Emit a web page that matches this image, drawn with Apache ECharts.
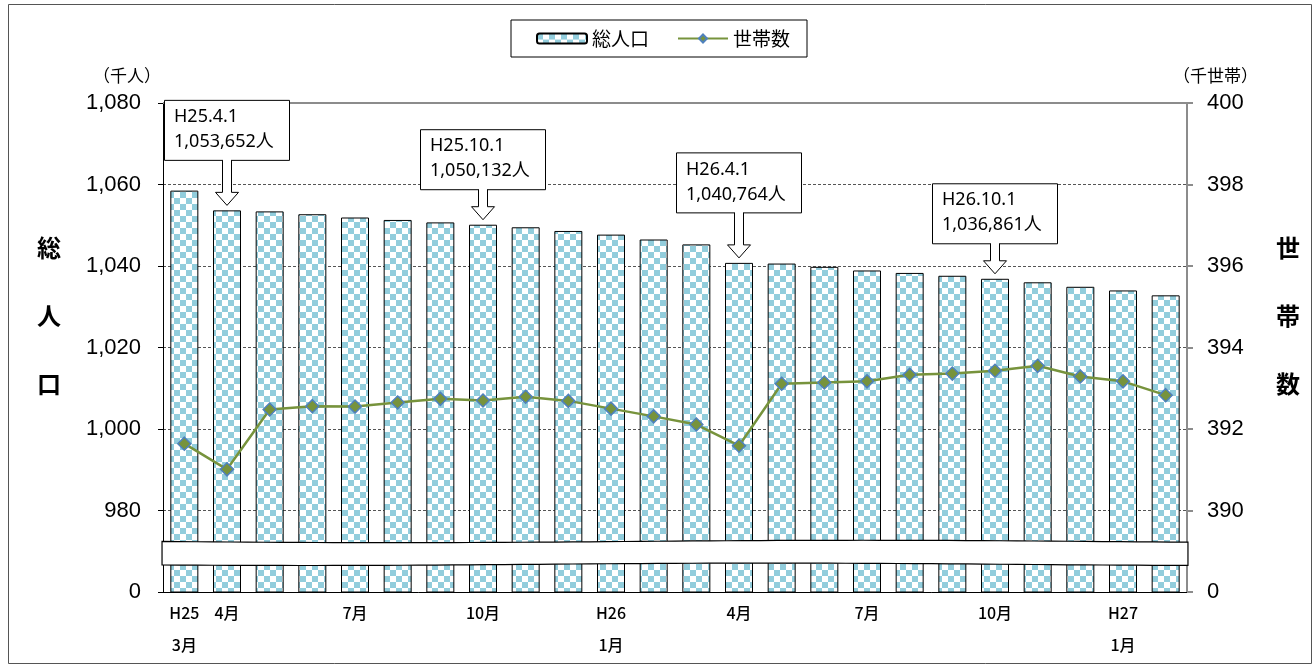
<!DOCTYPE html>
<html><head><meta charset="utf-8">
<script src="https://cdn.jsdelivr.net/npm/echarts@6/dist/echarts.min.js"></script>
<style>html,body{margin:0;padding:0;background:#fff}#c{width:1315px;height:668px}</style>
</head><body><div id="c"></div>
<script>
// ---- data ----
const categories = ['H25\n3月','4月','5月','6月','7月','8月','9月','10月','11月','12月','H26\n1月','2月','3月','4月','5月','6月','7月','8月','9月','10月','11月','12月','H27\n1月','2月'];
const population = [1058.5, 1053.652, 1053.4, 1052.7, 1051.9, 1051.3, 1050.7, 1050.132, 1049.5, 1048.6, 1047.7, 1046.5, 1045.3, 1040.764, 1040.6, 1039.8, 1038.9, 1038.3, 1037.6, 1036.861, 1036.0, 1034.9, 1034.0, 1032.8];
const households = [391.64, 391.01, 392.48, 392.56, 392.55, 392.65, 392.74, 392.70, 392.79, 392.69, 392.50, 392.31, 392.11, 391.59, 393.11, 393.14, 393.17, 393.33, 393.36, 393.43, 393.55, 393.29, 393.17, 392.83];
const leftTickValues = [960, 980, 1000, 1020, 1040, 1060, 1080];
const leftTickLabels = ['0', '980', '1,000', '1,020', '1,040', '1,060', '1,080'];
const rightTickValues = [388, 390, 392, 394, 396, 398, 400];
const rightTickLabels = ['0', '390', '392', '394', '396', '398', '400'];
const calloutIndex = [1, 7, 13, 19];
const calloutDate = ['H25.4.1', 'H25.10.1', 'H26.4.1', 'H26.10.1'];
const shownLabelIndex = [0, 1, 4, 7, 10, 13, 16, 19, 22];

(function () {
// ---- chart ----
const S = 6;
const pc = document.createElement('canvas'); pc.width = 2 * S; pc.height = 2 * S;
const g = pc.getContext('2d');
g.fillStyle = '#ffffff'; g.fillRect(0, 0, 2 * S, 2 * S);
g.fillStyle = '#92CDDC'; g.fillRect(0, 0, S, S); g.fillRect(S, S, S, S);
const checker = { image: pc, repeat: 'repeat' };

const numFont = '"Liberation Sans", Arial, sans-serif';
const jpFont = '"Noto Sans CJK JP", sans-serif';

const chart = echarts.init(document.getElementById('c'), null, { renderer: 'canvas' });
const option = {
  animation: false,
  backgroundColor: '#ffffff',
  grid: { left: 163, right: 128, top: 103, bottom: 76 },
  legend: {
    left: 511, top: 20,
    padding: [9, 17, 9, 25],
    borderColor: '#000', borderWidth: 1,
    itemWidth: 50, itemHeight: 10, itemGap: 28,
    textStyle: { fontFamily: jpFont, fontSize: 19, color: '#000' },
    data: ['総人口', '世帯数']
  },
  xAxis: {
    type: 'category', data: categories,
    axisLine: { lineStyle: { color: '#000', width: 1 } },
    axisTick: { show: false },
    axisLabel: {
      interval: 0, margin: 5, color: '#000', fontFamily: jpFont, fontSize: 16, fontWeight: 500,
      lineHeight: 32, verticalAlign: 'top',
      formatter: (v, i) => shownLabelIndex.indexOf(i) >= 0 ? v : ''
    }
  },
  yAxis: [{
    type: 'value', min: 960, max: 1080, interval: 20,
    axisLine: { show: true, lineStyle: { color: '#000', width: 1 } },
    axisTick: { show: true, length: 5, lineStyle: { color: '#000' } },
    axisLabel: { color: '#000', fontFamily: numFont, fontSize: 22, margin: 22,
      formatter: v => leftTickLabels[leftTickValues.indexOf(v)] },
    splitLine: { show: true, lineStyle: { type: [3, 2], width: 1,
      color: ['transparent', '#555', '#555', '#555', '#555', '#555', 'transparent'] } }
  }, {
    type: 'value', min: 388, max: 400, interval: 2,
    axisLine: { show: true, lineStyle: { color: '#8c8c8c', width: 2 } },
    axisTick: { show: true, length: 6, lineStyle: { color: '#8c8c8c', width: 2 } },
    axisLabel: { color: '#000', fontFamily: numFont, fontSize: 22, margin: 20,
      formatter: v => rightTickLabels[rightTickValues.indexOf(v)] },
    splitLine: { show: false }
  }],
  series: [{
    name: '総人口', type: 'bar', data: population, yAxisIndex: 0,
    barWidth: 28,
    itemStyle: { color: checker, borderColor: '#000', borderWidth: 1 }
  }, {
    name: '世帯数', type: 'line', data: households, yAxisIndex: 1,
    symbol: 'diamond', symbolSize: 13,
    lineStyle: { color: '#77933C', width: 2.5 },
    itemStyle: { color: '#77933C', borderColor: '#4F81BD', borderWidth: 1.5 },
    markLine: { silent: true, symbol: 'none', label: { show: false },
      lineStyle: { color: '#8c8c8c', width: 2, type: 'solid' },
      data: [{ yAxis: 400 }] },
    z: 3
  }]
};
chart.setOption(option);

// ---- decorations computed from the chart's scales ----
const px = (i, v) => chart.convertToPixel({ xAxisIndex: 0, yAxisIndex: 0 }, [i, v]);
const elems = [];
elems.push({ type: 'rect', z: 0, silent: true,
  shape: { x: 8.5, y: 4.5, width: 1303, height: 659 },
  style: { fill: 'none', stroke: '#555', lineWidth: 1 } });
elems.push({ type: 'text', z: 10, style: { text: '（千人）', x: 161, y: 76, align: 'right', verticalAlign: 'middle', font: '17px ' + jpFont, fill: '#000' } });
elems.push({ type: 'text', z: 10, style: { text: '（千世帯）', x: 1173, y: 76, align: 'left', verticalAlign: 'middle', font: '17px ' + jpFont, fill: '#000' } });
elems.push({ type: 'text', z: 10, style: { text: '総\n人\n口', x: 49, y: 316, align: 'center', verticalAlign: 'middle', lineHeight: 68, font: 'bold 24px ' + jpFont, fill: '#000' } });
elems.push({ type: 'text', z: 10, style: { text: '世\n帯\n数', x: 1288, y: 316, align: 'center', verticalAlign: 'middle', lineHeight: 68, font: 'bold 24px ' + jpFont, fill: '#000' } });

// axis break band (gently wavy edges)
const gl = px(0, 1000)[0] - 22.3, gr = px(23, 1000)[0] + 22.3;
const yT = px(0, 972.4)[1], yB = px(0, 966.8)[1];
const w = gr - gl;
const N = 60;
const edgeTop = [], edgeBot = [];
for (let k = 0; k <= N; k++) {
  const t = k / N, x = gl + w * t;
  edgeTop.push([x, yT + 1.2 * Math.sin(t * Math.PI * 2.2)]);
}
for (let k = N; k >= 0; k--) {
  const t = k / N, x = gl + w * t;
  edgeBot.push([x, yB + 1.2 * Math.sin(t * Math.PI * 2.2 + 0.6)]);
}
elems.push({ type: 'polygon', z: 20, silent: true, shape: { points: edgeTop.concat(edgeBot) },
  style: { fill: '#fff', stroke: '#000', lineWidth: 1.2 } });

// callouts
calloutIndex.forEach((idx, k) => {
  const p = px(idx, population[idx]);
  const cx = p[0], tipY = p[1] - 5;
  const L = (k % 2 === 0) ? 45 : 30;
  const boxB = tipY - L, boxT = boxB - 60;
  const sw = 4.5, hw = 11.5, hh = 13;
  const val = Math.round(population[idx] * 1000).toLocaleString('en-US') + '人';
  elems.push({ type: 'rect', z: 30, silent: true,
    shape: { x: cx - 62.5, y: boxT, width: 125, height: 60 },
    style: { fill: '#fff', stroke: '#000', lineWidth: 1 } });
  const pts = [[cx - sw, boxB], [cx - sw, tipY - hh], [cx - hw, tipY - hh], [cx, tipY], [cx + hw, tipY - hh], [cx + sw, tipY - hh], [cx + sw, boxB]];
  elems.push({ type: 'polygon', z: 31, silent: true,
    shape: { points: [[cx - sw + 0.5, boxB - 1.5]].concat(pts.slice(1, 6)).concat([[cx + sw - 0.5, boxB - 1.5]]) },
    style: { fill: '#fff', stroke: 'none' } });
  elems.push({ type: 'polyline', z: 32, silent: true, shape: { points: pts },
    style: { stroke: '#000', lineWidth: 1, fill: 'none' } });
  elems.push({ type: 'text', z: 33, silent: true,
    style: { text: calloutDate[k] + '\n' + val, x: cx - 53, y: boxT + 4, align: 'left', verticalAlign: 'top',
      lineHeight: 25, font: '18px "Noto Sans", "Noto Sans CJK JP", sans-serif', fill: '#000' } });
});
chart.setOption({ graphic: { elements: elems } });
})();
</script>
</body></html>
